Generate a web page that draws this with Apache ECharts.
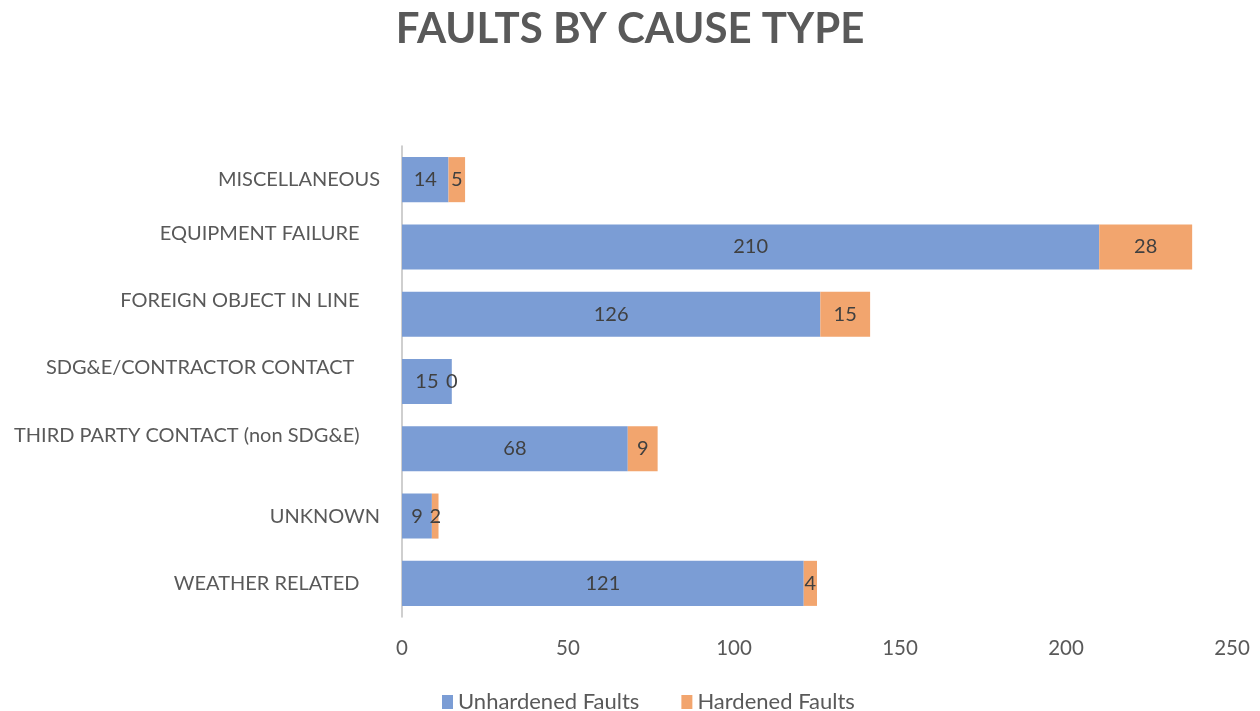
<!DOCTYPE html>
<html>
<head>
<meta charset="utf-8" />
<title>Faults by cause type</title>
<script src="https://cdn.jsdelivr.net/npm/echarts@6/dist/echarts.min.js"></script>
<style>
  html, body { margin: 0; padding: 0; background: #fff; }
  #chartmain { width: 1260px; height: 711px; }
</style>
</head>
<body>
<div id="chartmain"></div>
<script type="text/javascript">
// category labels as typed in the source sheet (some carry trailing spaces / a line break)
var causes = [
  'MISCELLANEOUS',
  'EQUIPMENT FAILURE    \n ',
  'FOREIGN OBJECT IN LINE    \n ',
  'SDG&E/CONTRACTOR CONTACT     \n ',
  'THIRD PARTY CONTACT (non SDG&E)    \n ',
  'UNKNOWN',
  'WEATHER RELATED    '
];
var unhardened = [14, 210, 126, 15, 68, 9, 121];
var hardened   = [5, 28, 15, 0, 9, 2, 4];
var seriesNames = ['Unhardened Faults', 'Hardened Faults'];

var FONT = 'Lato';

var myChart = echarts.init(document.getElementById('chartmain'));
var option = {
  backgroundColor: '#fff',
  animation: false,
  textStyle: { fontFamily: FONT },
  title: {
    text: 'FAULTS BY CAUSE TYPE',
    left: 'center',
    top: 3,
    textStyle: { fontFamily: FONT, fontSize: 42, fontWeight: 'bold', color: '#595959' }
  },
  legend: {
    data: seriesNames,
    top: 686,
    left: 437,
    itemWidth: 11,
    itemHeight: 14,
    itemGap: 42,
    icon: 'rect',
    textStyle: { fontFamily: FONT, fontSize: 22, color: '#595959' }
  },
  grid: {
    left: 402,
    right: 28,
    top: 146,
    bottom: 94
  },
  xAxis: {
    type: 'value',
    min: 0,
    max: 250,
    interval: 50,
    axisLine: { show: false },
    axisTick: { show: false },
    splitLine: { show: false },
    axisLabel: { fontFamily: FONT, fontSize: 20.5, color: '#595959', margin: 21 }
  },
  yAxis: {
    type: 'category',
    inverse: true,
    data: causes,
    axisLine: { show: true, lineStyle: { color: '#bfbfbf', width: 1.5 } },
    axisTick: { show: false },
    axisLabel: { fontFamily: FONT, fontSize: 20, color: '#595959', margin: 22, lineHeight: 27 }
  },
  series: [
    {
      name: seriesNames[0],
      type: 'bar',
      stack: 'total',
      barWidth: '67%',
      data: unhardened,
      itemStyle: { color: '#7b9dd5' },
      label: { show: true, position: 'inside', fontFamily: FONT, fontSize: 20, color: '#404040' }
    },
    {
      name: seriesNames[1],
      type: 'bar',
      stack: 'total',
      barWidth: '67%',
      data: hardened,
      itemStyle: { color: '#f2a56e' },
      label: { show: true, position: 'inside', fontFamily: FONT, fontSize: 20, color: '#404040' }
    }
  ]
};
myChart.setOption(option);
</script>
</body>
</html>
